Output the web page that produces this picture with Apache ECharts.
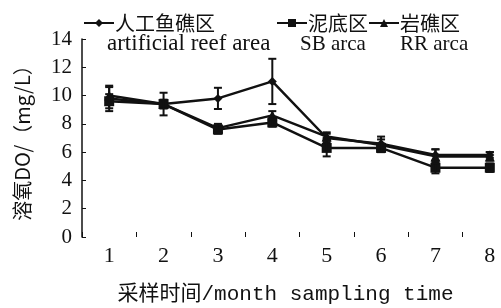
<!DOCTYPE html>
<html>
<head>
<meta charset="utf-8">
<script src="https://cdn.jsdelivr.net/npm/echarts@6/dist/echarts.min.js"></script>
<style>
  html, body { margin: 0; padding: 0; background: #fff; }
  #chart { width: 501px; height: 308px; }
</style>
</head>
<body>
<div id="chart"></div>
<script>
const months = ['1', '2', '3', '4', '5', '6', '7', '8'];
// 人工鱼礁区 (diamond)
const reefValues = [9.8, 9.4, 9.8, 11.0, 7.0, 6.6, 5.8, 5.8];
const reefErrors = [0.9, 0.3, 0.75, 1.6, 0.3, 0.5, 0.4, 0.2];
// 泥底区 (square)
const sbValues = [9.6, 9.4, 7.6, 8.1, 6.3, 6.3, 4.9, 4.9];
const sbErrors = [0.5, 0.8, 0.3, 0.3, 0.6, 0.3, 0.4, 0.3];
// 岩礁区 (triangle)
const rrValues = [10.0, 9.4, 7.7, 8.6, 7.1, 6.5, 5.7, 5.7];
const rrErrors = [0.6, 0.3, 0.3, 0.3, 0.3, 0.4, 0.5, 0.3];
const yTicks = [0, 2, 4, 6, 8, 10, 12, 14];

const serif = '"Liberation Serif", "Noto Sans CJK SC", serif';
const cjk = '"Noto Sans CJK SC", "Liberation Serif", serif';
const mono = '"Liberation Mono", "Noto Sans CJK SC", monospace';

function errData(values, errors) {
    return values.map((v, i) => [i, v - errors[i], v + errors[i]]);
}

function errorBar(params, api) {
    const x = api.value(0);
    const lo = api.coord([x, api.value(1)]);
    const hi = api.coord([x, api.value(2)]);
    const cap = 4;
    const style = { stroke: '#111', lineWidth: 2 };
    return {
        type: 'group',
        children: [
            { type: 'line', shape: { x1: hi[0], y1: hi[1], x2: lo[0], y2: lo[1] }, style },
            { type: 'line', shape: { x1: hi[0] - cap, y1: hi[1], x2: hi[0] + cap, y2: hi[1] }, style },
            { type: 'line', shape: { x1: lo[0] - cap, y1: lo[1], x2: lo[0] + cap, y2: lo[1] }, style }
        ]
    };
}

const lineStyle = { color: '#111', width: 2.5 };

const option = {
    animation: false,
    backgroundColor: '#fff',
    grid: { left: 82, right: -16, top: 39, bottom: 71, containLabel: false, outerBoundsMode: 'none' },
    legend: [
        {
            data: ['人工鱼礁区'],
            left: 78, top: 8,
            itemWidth: 30, itemHeight: 10, itemGap: 0,
            textStyle: { fontFamily: cjk, fontSize: 20, color: '#111', padding: [0, 0, 0, -4] }
        },
        {
            data: ['泥底区', '岩礁区'],
            left: 271, top: 8,
            itemWidth: 30, itemHeight: 10, itemGap: 0,
            textStyle: { fontFamily: cjk, fontSize: 20, color: '#111', padding: [0, 0, 0, -4] }
        }
    ],
    graphic: [
        { type: 'text', left: 107, top: 32, style: { text: 'artificial reef area', font: '23px ' + serif, fill: '#111' } },
        { type: 'text', left: 300, top: 34, style: { text: 'SB arca', font: '21px ' + serif, fill: '#111' } },
        { type: 'text', left: 400, top: 34, style: { text: 'RR arca', font: '21px ' + serif, fill: '#111' } }
    ],
    xAxis: {
        type: 'category',
        data: months,
        boundaryGap: true,
        name: '采样时间/month sampling time',
        nameLocation: 'middle',
        nameGap: 47,
        nameTextStyle: { fontFamily: mono, fontSize: 21, color: '#111', padding: [0, 28, 0, 0] },
        axisLine: { show: false },
        axisTick: { show: true, inside: true, length: 5, lineStyle: { color: '#111', width: 1 } },
        axisLabel: { fontFamily: serif, fontSize: 22, color: '#111', margin: 8 },
        splitLine: { show: false }
    },
    yAxis: {
        type: 'value',
        min: 0, max: 14, interval: 2,
        name: '溶氧DO/（mg/L）',
        nameLocation: 'middle',
        nameGap: 50,
        nameRotate: 90,
        nameTextStyle: { fontFamily: cjk, fontSize: 20, color: '#111' },
        axisLine: { show: true, lineStyle: { color: '#111', width: 1.5 } },
        axisTick: { show: true, inside: true, length: 4, lineStyle: { color: '#111', width: 1 } },
        axisLabel: {
            fontFamily: serif, fontSize: 21, color: '#111', margin: 10,
            formatter: v => (yTicks.includes(v) ? String(v) : '')
        },
        splitLine: { show: false }
    },
    series: [
        {
            name: '人工鱼礁区', type: 'line', data: reefValues,
            symbol: 'diamond', symbolSize: 9,
            itemStyle: { color: '#111' }, lineStyle, z: 5
        },
        {
            name: '泥底区', type: 'line', data: sbValues,
            symbol: 'rect', symbolSize: 10,
            itemStyle: { color: '#111' }, lineStyle, z: 4
        },
        {
            name: '岩礁区', type: 'line', data: rrValues,
            symbol: 'triangle', symbolSize: 10,
            itemStyle: { color: '#111' }, lineStyle, z: 3
        },
        { type: 'custom', renderItem: errorBar, data: errData(reefValues, reefErrors), encode: { x: 0, y: [1, 2] }, z: 6 },
        { type: 'custom', renderItem: errorBar, data: errData(sbValues, sbErrors), encode: { x: 0, y: [1, 2] }, z: 6 },
        { type: 'custom', renderItem: errorBar, data: errData(rrValues, rrErrors), encode: { x: 0, y: [1, 2] }, z: 6 }
    ]
};

const chart = echarts.init(document.getElementById('chart'));
chart.setOption(option);
</script>
</body>
</html>
